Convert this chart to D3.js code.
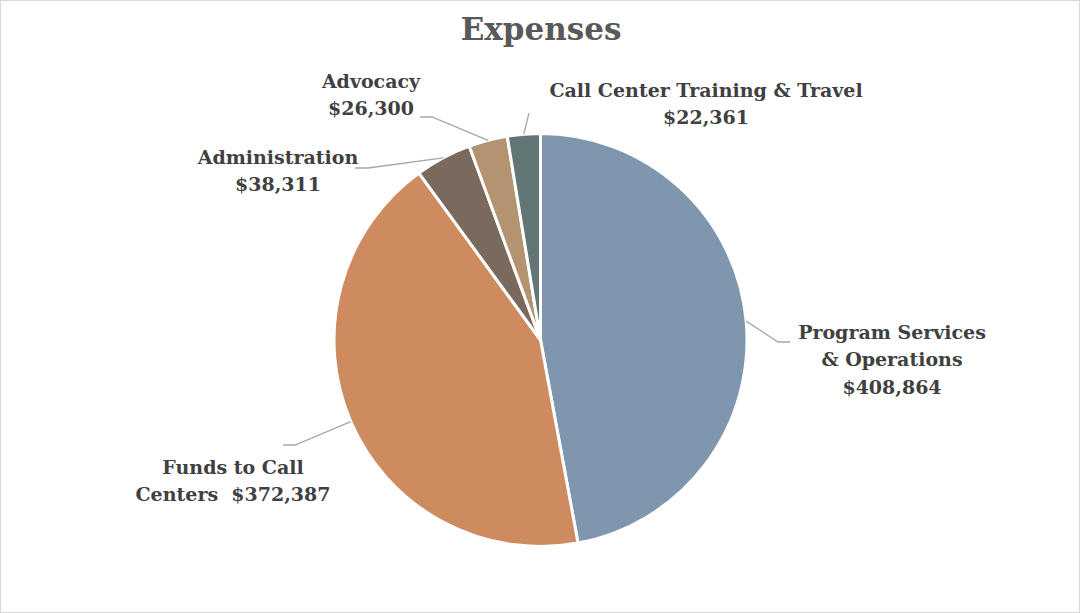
<!DOCTYPE html>
<html lang="en">
<head>
<meta charset="utf-8">
<title>Expenses</title>
<script src="https://cdn.jsdelivr.net/npm/d3@7"></script>
<style>
  body { margin:0; background:#ffffff; }
  svg { display:block; }
  .lbl { font-family:"DejaVu Serif", serif; font-weight:bold; font-size:19px; fill:#404040; }
  .title { font-family:"DejaVu Serif", serif; font-weight:bold; font-size:31px; fill:#595959; }
</style>
</head>
<body>
<script>
// data
var categories = ["Program Services & Operations", "Funds to Call Centers", "Administration", "Advocacy", "Call Center Training & Travel"];
var amounts = [408864, 372387, 38311, 26300, 22361];
var labelLines = [
  ["Program Services", "& Operations", "$408,864"],
  ["Funds to Call", "Centers  $372,387"],
  ["Administration", "$38,311"],
  ["Advocacy", "$26,300"],
  ["Call Center Training & Travel", "$22,361"]
];
var colors = ["#7f97ae", "#cd8b5f", "#7a6a5e", "#b49470", "#627775"];

// layout
var w = 1080, h = 613;
var cx = 540.5, cy = 340, r = 206.5;
// where each leader line bends, and where the label block sits
var labelLayout = [
  {elbow:[778, 342], end:[790, 342], tx:892, ty:332},
  {elbow:[295, 445], end:[283, 445], tx:233, ty:467},
  {elbow:[368, 168], end:[355, 168], tx:278, ty:157},
  {elbow:[432, 117], end:[420, 117], tx:371, ty:81},
  {elbow:[529, 113], end:[529, 113], tx:706, ty:90}
];
var lineGap = 27.5;

var svg = d3.select("body").append("svg")
  .attr("width", w)
  .attr("height", h);

svg.append("rect")
  .attr("x", 0.5).attr("y", 0.5)
  .attr("width", w - 1).attr("height", h - 1)
  .attr("fill", "#ffffff")
  .attr("stroke", "#d9d9d9");

svg.append("text")
  .attr("class", "title")
  .attr("x", 541).attr("y", 40)
  .attr("text-anchor", "middle")
  .text("Expenses");

var dataset = categories.map(function(c, i) { return {name:c, value:amounts[i], i:i}; });

var pie = d3.pie().sort(null).value(function(d) { return d.value; });
var arc = d3.arc().innerRadius(0).outerRadius(r);
var arcs = pie(dataset);

var g = svg.append("g").attr("transform", "translate(" + cx + "," + cy + ")");

g.selectAll("path")
  .data(arcs)
  .enter()
  .append("path")
  .attr("d", arc)
  .attr("fill", function(d) { return colors[d.data.i]; })
  .attr("stroke", "#ffffff")
  .attr("stroke-width", 3)
  .attr("stroke-linejoin", "round");

// leader lines
svg.selectAll("polyline.leader")
  .data(arcs)
  .enter()
  .append("polyline")
  .attr("class", "leader")
  .attr("fill", "none")
  .attr("stroke", "#a6a6a6")
  .attr("stroke-width", 1.3)
  .attr("points", function(d) {
    var a = (d.startAngle + d.endAngle) / 2;
    var sx = cx + r * Math.sin(a), sy = cy - r * Math.cos(a);
    var L = labelLayout[d.data.i];
    return [[sx, sy], L.elbow, L.end].map(function(p) { return p.join(","); }).join(" ");
  });

// labels
var lbl = svg.selectAll("text.lbl")
  .data(arcs)
  .enter()
  .append("text")
  .attr("class", "lbl")
  .attr("text-anchor", "middle")
  .attr("x", function(d) { return labelLayout[d.data.i].tx; })
  .attr("y", function(d) { return labelLayout[d.data.i].ty; });

lbl.selectAll("tspan")
  .data(function(d) { return labelLines[d.data.i].map(function(t) { return {t:t, x:labelLayout[d.data.i].tx}; }); })
  .enter()
  .append("tspan")
  .attr("x", function(d) { return d.x; })
  .attr("dy", function(d, j) { return j === 0 ? "0.35em" : lineGap; })
  .style("white-space", "pre")
  .text(function(d) { return d.t; });
</script>
</body>
</html>
